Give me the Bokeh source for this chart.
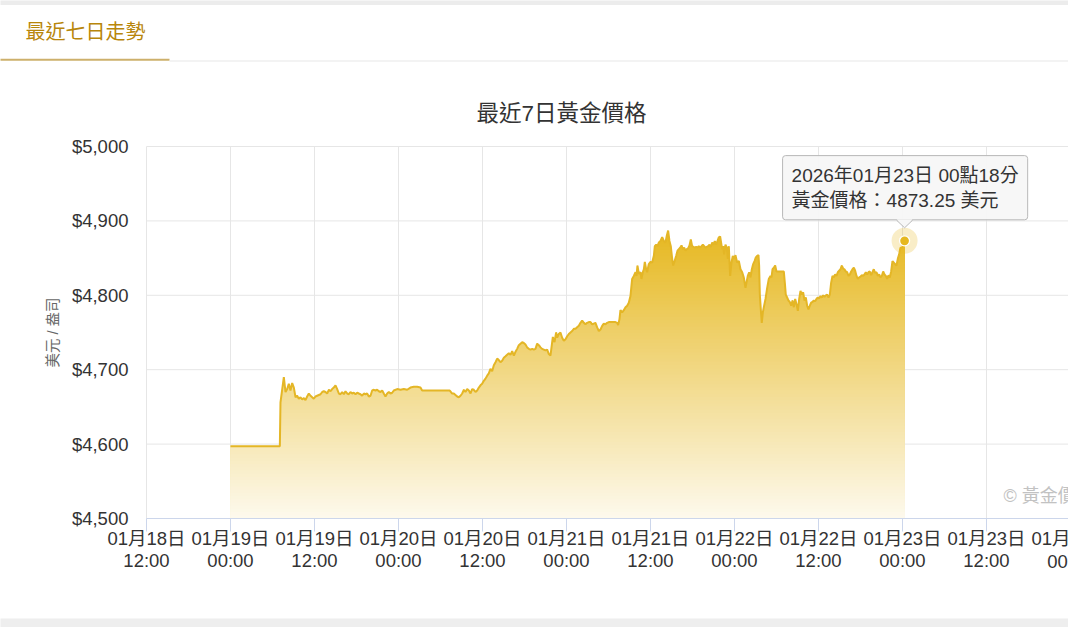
import datetime as dt
import numpy as np
from bokeh.plotting import figure
from bokeh.models import (Range1d, FixedTicker, DatetimeTickFormatter,
                          NumeralTickFormatter, Label, BoxAnnotation)
from bokeh.embed import file_html
from bokeh.resources import INLINE

# ---------------- data ----------------
series_start = "2026-01-19 00:00"
axis_start = "2026-01-18 12:00"
axis_end = "2026-01-23 23:43"
tick_step_hours = 12
offscreen_tick = "2026-01-24 00:00"

hours = [
    0.00, 7.05, 7.14, 7.62, 7.86, 8.10, 8.33, 8.57, 8.81, 9.05, 9.29, 9.52, 9.76, 10.00,
    10.24, 10.48, 10.71, 10.95, 11.19, 11.43, 11.67, 11.90, 12.14, 12.38, 12.62, 12.86,
    13.10, 13.33, 13.57, 13.81, 14.05, 14.29, 14.52, 14.76, 15.00, 15.24, 15.48, 15.71,
    15.95, 16.19, 16.43, 16.67, 16.90, 17.14, 17.38, 17.62, 17.86, 18.10, 18.33, 18.57,
    18.81, 19.05, 19.29, 19.52, 19.76, 20.00, 20.24, 20.48, 20.71, 20.95, 21.19, 21.43,
    21.67, 21.90, 22.14, 22.38, 22.62, 22.86, 23.10, 23.33, 23.81, 24.29, 24.76, 25.24,
    25.71, 26.19, 26.67, 27.14, 27.38, 31.33, 31.67, 31.90, 32.14, 32.38, 32.62, 32.86,
    33.10, 33.33, 33.57, 33.81, 34.05, 34.29, 34.52, 34.76, 35.00, 35.24, 35.48, 35.71,
    35.95, 36.19, 36.43, 36.67, 36.90, 37.14, 37.38, 37.62, 37.86, 38.10, 38.33, 38.57,
    38.81, 39.05, 39.29, 39.52, 39.76, 40.00, 40.24, 40.48, 40.71, 40.95, 41.19, 41.43,
    41.67, 41.90, 42.14, 42.38, 42.62, 42.86, 43.10, 43.33, 43.57, 43.81, 44.05, 44.29,
    44.52, 44.76, 45.00, 45.24, 45.48, 45.71, 45.86, 46.05, 46.29, 46.52, 46.67, 46.90,
    47.14, 47.38, 47.62, 47.86, 48.10, 48.33, 48.57, 48.81, 49.05, 49.29, 49.52, 49.76,
    50.00, 50.24, 50.48, 50.71, 50.95, 51.19, 51.43, 51.67, 51.90, 52.14, 52.38, 52.62,
    52.86, 53.10, 53.33, 53.57, 53.81, 54.05, 54.52, 55.00, 55.24, 55.38, 55.57, 55.71,
    55.95, 56.19, 56.43, 56.67, 56.90, 57.14, 57.38, 57.62, 57.86, 58.00, 58.14, 58.33,
    58.57, 58.71, 58.90, 59.05, 59.19, 59.38, 59.52, 59.76, 60.00, 60.24, 60.48, 60.62,
    60.81, 61.00, 61.19, 61.43, 61.67, 61.90, 62.14, 62.33, 62.52, 62.71, 62.90, 63.10,
    63.24, 63.48, 63.67, 63.86, 64.05, 64.24, 64.43, 64.62, 64.81, 65.00, 65.19, 65.38,
    65.57, 65.76, 65.95, 66.14, 66.33, 66.52, 66.71, 66.90, 67.10, 67.29, 67.48, 67.67,
    67.86, 68.05, 68.24, 68.43, 68.62, 68.81, 69.00, 69.19, 69.38, 69.57, 69.76, 69.95,
    70.10, 70.24, 70.38, 70.52, 70.71, 70.90, 71.05, 71.19, 71.38, 71.57, 71.76, 71.95,
    72.14, 72.38, 72.62, 72.86, 73.10, 73.33, 73.57, 73.71, 73.90, 74.10, 74.29, 74.48,
    74.67, 74.86, 75.05, 75.24, 75.43, 75.52, 75.62, 75.76, 75.90, 76.05, 76.19, 76.43,
    76.67, 76.90, 77.14, 77.29, 77.43, 77.62, 77.81, 78.00, 79.05, 79.19, 79.33, 79.52,
    79.71, 79.90, 80.10, 80.29, 80.48, 80.67, 80.86, 81.05, 81.24, 81.43, 81.62, 81.81,
    82.00, 82.19, 82.38, 82.57, 82.76, 82.95, 83.14, 83.33, 83.52, 83.71, 83.90, 84.10,
    84.29, 84.48, 84.67, 84.86, 85.05, 85.24, 85.43, 85.62, 85.81, 86.00, 86.19, 86.38,
    86.57, 86.76, 86.95, 87.14, 87.33, 87.52, 87.71, 87.90, 88.10, 88.29, 88.48, 88.67,
    88.86, 89.05, 89.24, 89.43, 89.62, 89.81, 90.00, 90.19, 90.38, 90.57, 90.76, 90.95,
    91.14, 91.33, 91.52, 91.71, 91.90, 92.10, 92.29, 92.48, 92.67, 92.86, 93.05, 93.24,
    93.43, 93.62, 93.81, 94.00, 94.19, 94.38, 94.57, 94.76, 94.95, 95.14, 95.33, 95.52,
    95.71, 95.95, 96.30,
]

prices = [
    4597, 4597, 4656, 4690, 4670, 4674, 4681, 4672, 4682, 4676, 4663, 4665, 4661, 4663,
    4660, 4662, 4659, 4664, 4668, 4665, 4663, 4661, 4664, 4665, 4666, 4667,
    4670, 4671, 4670, 4668, 4673, 4671, 4674, 4676, 4679, 4674, 4668, 4667,
    4670, 4667, 4671, 4668, 4667, 4670, 4668, 4669, 4667, 4669, 4668, 4667,
    4665, 4668, 4667, 4668, 4664, 4665, 4672, 4673, 4672, 4673, 4671, 4670,
    4672, 4668, 4664, 4668, 4670, 4668, 4669, 4672, 4674, 4673, 4674, 4673,
    4676, 4677, 4677, 4676, 4672, 4672, 4668, 4668, 4666, 4664, 4663, 4665,
    4668, 4673, 4670, 4674, 4672, 4668, 4674, 4673, 4670, 4672, 4676, 4679,
    4681, 4685, 4688, 4692, 4695, 4701, 4698, 4706, 4710, 4715, 4713, 4710,
    4712, 4716, 4718, 4720, 4722, 4720, 4725, 4719, 4724, 4728, 4733, 4735,
    4737, 4736, 4734, 4730, 4728, 4727, 4728, 4727, 4728, 4735, 4733, 4730,
    4728, 4727, 4726, 4727, 4721, 4719, 4730, 4744, 4737, 4750, 4743, 4748,
    4750, 4743, 4739, 4741, 4745, 4748, 4750, 4752, 4755, 4755, 4757, 4759,
    4763, 4766, 4763, 4761, 4763, 4764, 4764, 4761, 4762, 4763, 4757, 4752,
    4754, 4759, 4762, 4761, 4763, 4764, 4764, 4764, 4763, 4760, 4768, 4780,
    4777, 4780, 4784, 4786, 4790, 4799, 4822, 4826, 4831, 4826, 4840, 4829,
    4831, 4822, 4831, 4835, 4845, 4835, 4831, 4842, 4845, 4844, 4853, 4866,
    4868, 4866, 4871, 4873, 4878, 4873, 4871, 4880, 4887, 4873, 4866, 4849,
    4840, 4847, 4853, 4860, 4862, 4864, 4867, 4862, 4864, 4860, 4862, 4863,
    4867, 4875, 4866, 4865, 4864, 4865, 4864, 4866, 4864, 4866, 4868, 4866,
    4864, 4865, 4866, 4868, 4865, 4871, 4868, 4873, 4868, 4873, 4878, 4879,
    4870, 4862, 4866, 4855, 4868, 4864, 4849, 4866, 4826, 4844, 4853, 4849,
    4854, 4844, 4846, 4835, 4831, 4824, 4810, 4817, 4826, 4831, 4824, 4835,
    4842, 4846, 4851, 4853, 4854, 4840, 4801, 4781, 4763, 4777, 4784, 4795,
    4810, 4822, 4826, 4824, 4835, 4837, 4840, 4832, 4832, 4817, 4801, 4797,
    4793, 4791, 4786, 4793, 4784, 4795, 4788, 4779, 4795, 4806, 4801, 4804,
    4793, 4797, 4786, 4781, 4786, 4790, 4791, 4793, 4792, 4795, 4797, 4796,
    4799, 4797, 4800, 4798, 4800, 4801, 4797, 4801, 4817, 4826, 4824, 4828,
    4826, 4831, 4833, 4835, 4840, 4836, 4835, 4832, 4831, 4826, 4828, 4832,
    4835, 4837, 4833, 4826, 4822, 4824, 4825, 4827, 4826, 4828, 4831, 4828,
    4831, 4832, 4827, 4831, 4835, 4830, 4831, 4826, 4828, 4824, 4826, 4832,
    4828, 4826, 4822, 4827, 4824, 4832, 4846, 4844, 4842, 4840, 4849, 4855,
    4864, 4864, 4873.25,
]

y_ticks = [4500, 4600, 4700, 4800, 4900, 5000]
y_min, y_max = 4500, 5000

tab_title = "最近七日走勢"
chart_title = "最近7日黃金價格"
y_axis_title = "美元 / 盎司"
credit_text = "© 黃金價格網"
price_name = "黃金價格"
unit_name = "美元"

# ---------------- styles / geometry ----------------
FONT = "Liberation Sans, Noto Sans CJK TC"
GOLD = (230, 184, 32)
LINE_COLOR = "#e4b626"
TEXT = "#333333"
GRID = "#e6e6e6"

W, H = 1068, 627
PL, PT, PB, PR = 146, 146, 518, 1068   # plot-area edges (canvas px)
TICK_FMT = "%m月%d日\n%H:%M"


def to_ms(s):
    d = dt.datetime.strptime(s, "%Y-%m-%d %H:%M").replace(tzinfo=dt.timezone.utc)
    return d.timestamp() * 1000.0


t0 = to_ms(series_start)
t = np.array([t0 + h * 3600000.0 for h in hours])
v = np.array(prices, dtype=float)

X0 = to_ms(axis_start)
X1 = to_ms(axis_end)
tick_ms = list(np.arange(X0, X1 + 1, tick_step_hours * 3600000.0))


def dx(px):
    return px * (X1 - X0) / (PR - PL)


def dy(px):
    return px * (y_max - y_min) / (PB - PT)


def xat(cx):
    return X0 + dx(cx - PL)


def yat(cy):
    return y_max - dy(cy - PT)


# the frame covers the whole canvas; the axes are pinned at the plot-area edges
p = figure(width=W, height=H, x_axis_type="datetime",
           x_range=Range1d(xat(0), xat(W)), y_range=Range1d(yat(H), yat(0)),
           output_backend="svg", toolbar_location=None, tools="",
           min_border=0, min_border_left=0, min_border_top=0,
           min_border_bottom=0, min_border_right=0)
p.background_fill_color = "white"
p.border_fill_color = "white"
p.outline_line_color = None
p.xgrid.visible = False
p.ygrid.visible = False

# ---- page decorations ----
def box(l, r, top, bottom, color):
    p.add_layout(BoxAnnotation(left=xat(l), right=xat(r), top=yat(top), bottom=yat(bottom),
                               fill_color=color, fill_alpha=1.0, line_color=None,
                               level="underlay"))


box(-5, W + 5, -5, 4.5, "#ececec")        # page background strip (top)
box(-5, W + 5, 618, H + 5, "#eeeeee")     # page background strip (bottom)
box(-5, 169, 58.3, 60.3, "#cdb06b")       # active tab underline
box(169, W + 5, 60, 61, "#e8e8e8")        # tab bar divider

# ---- grid lines (plot area only) ----
p.segment(x0=tick_ms, y0=[y_min] * len(tick_ms), x1=tick_ms, y1=[y_max] * len(tick_ms),
          line_color=GRID, line_width=1, level="underlay")
p.segment(x0=[X0] * len(y_ticks), y0=y_ticks, x1=[X1] * len(y_ticks), y1=y_ticks,
          line_color=GRID, line_width=1, level="underlay")

# ---- gradient area (stacked bands) ----
vmax = v.max()
n_bands = 90
edges = np.linspace(y_min, vmax, n_bands + 1)
base = np.full_like(v, y_min)
for k in range(n_bands, 0, -1):
    mid = 0.5 * (edges[k - 1] + edges[k])
    frac = (mid - y_min) / (vmax - y_min)
    a = 0.08 + 0.92 * frac
    col = tuple(int(round(255 * (1 - a) + c * a)) for c in GOLD)
    p.varea(x=t, y1=base, y2=np.minimum(v, edges[k]),
            fill_color="#%02x%02x%02x" % col, fill_alpha=1.0)

p.line(t, v, line_color=LINE_COLOR, line_width=2)

# hover marker on last point
p.scatter([t[-1]], [v[-1]], size=26, fill_color="#e6b820", fill_alpha=0.25, line_color=None)
p.scatter([t[-1]], [v[-1]], size=10, fill_color="#e6b820", line_color="white", line_width=1.3)

# ---- axes ----
xa = p.xaxis[0]
xa.fixed_location = y_min
xa.bounds = (X0, X1)
xa.ticker = FixedTicker(ticks=tick_ms)
xa.formatter = DatetimeTickFormatter(minutes=TICK_FMT, hourmin=TICK_FMT, hours=TICK_FMT,
                                     days=TICK_FMT, months=TICK_FMT, years=TICK_FMT)
xa.axis_line_color = "#ccd6eb"
xa.major_tick_line_color = "#ccd6eb"
xa.major_tick_out = 13
xa.major_tick_in = 0
xa.minor_tick_line_color = None
xa.major_label_text_font = FONT
xa.major_label_text_font_size = "18.5px"
xa.major_label_text_color = TEXT
xa.major_label_text_line_height = 1.06
xa.major_label_standoff = -4

ya = p.yaxis[0]
ya.fixed_location = X0
ya.bounds = (y_min, y_max)
ya.ticker = FixedTicker(ticks=y_ticks)
ya.formatter = NumeralTickFormatter(format="$0,0")
ya.axis_line_color = None
ya.major_tick_line_color = None
ya.minor_tick_line_color = None
ya.major_tick_out = 0
ya.major_tick_in = 0
ya.major_label_standoff = 18
ya.major_label_text_font = FONT
ya.major_label_text_font_size = "18.5px"
ya.major_label_text_color = TEXT
ya.axis_label = y_axis_title
ya.axis_label_text_font = FONT
ya.axis_label_text_font_size = "14.5px"
ya.axis_label_text_font_style = "normal"
ya.axis_label_text_color = "#666666"
ya.axis_label_standoff = 8


# ---- texts ----
def text_label(cx, cy, text, size, color, align="left", baseline="middle", lh=1.2):
    p.add_layout(Label(x=xat(cx), y=yat(cy), text=text, text_align=align,
                       text_baseline=baseline, text_font=FONT, text_font_size=size,
                       text_color=color, text_line_height=lh))


text_label(25, 31.5, tab_title, "20px", "#b8860b")
text_label(561, 113, chart_title, "22.5px", TEXT, align="center")
text_label(1003, 495.5, credit_text, "18px", "#c2c2c2")

# tick label of the next tick, just past the right edge of the visible area
off_dt = dt.datetime.strptime(offscreen_tick, "%Y-%m-%d %H:%M")
p.add_layout(Label(x=to_ms(offscreen_tick), y=yat(549.5), text=off_dt.strftime(TICK_FMT),
                   text_align="center", text_baseline="middle", text_font=FONT,
                   text_font_size="18.5px", text_color=TEXT, text_line_height=1.06))

# ---- tooltip on last point ----
last_dt = dt.datetime(2026, 1, 19) + dt.timedelta(minutes=round(hours[-1] * 60))
tip_text = (f"{last_dt.year}年{last_dt.month:02d}月{last_dt.day:02d}日 "
            f"{last_dt.hour:02d}點{last_dt.minute:02d}分\n"
            f"{price_name}：{v[-1]:.2f} {unit_name}")

p.add_layout(Label(x=t[-1], y=v[-1], x_offset=-120, y_offset=19, text=tip_text,
                   text_align="left", text_baseline="bottom", text_font=FONT,
                   text_font_size="19px", text_alpha=0.0, text_line_height=1.2,
                   background_fill_color="#000000", background_fill_alpha=0.07,
                   padding=9, border_radius=3))
p.add_layout(Label(x=t[-1], y=v[-1], x_offset=-122, y_offset=21, text=tip_text,
                   text_align="left", text_baseline="bottom", text_font=FONT,
                   text_font_size="19px", text_color=TEXT, text_line_height=1.2,
                   background_fill_color="#f7f7f7", background_fill_alpha=0.95,
                   border_line_color="#b8b8b8", border_line_width=1,
                   padding=9, border_radius=3))

tri_x = [t[-1] - dx(8), t[-1] + dx(8), t[-1]]
tri_y = [v[-1] + dy(21.6), v[-1] + dy(21.6), v[-1] + dy(13)]
p.patch(tri_x, tri_y, fill_color="#f7f7f7", line_color=None, level="overlay")
p.line([tri_x[0], tri_x[2], tri_x[1]], [v[-1] + dy(20.6), tri_y[2], v[-1] + dy(20.6)],
       line_color="#b8b8b8", line_width=1, level="overlay")

open("out.html", "w").write(file_html(p, INLINE))
